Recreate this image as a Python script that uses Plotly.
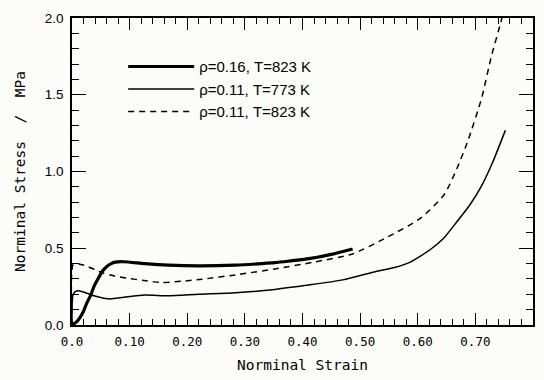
import plotly.graph_objects as go

# Series 1: rho=0.16, T=823 K (thick)
x1 = [0.0, 0.008, 0.014, 0.02, 0.026, 0.032, 0.038, 0.045, 0.052, 0.06, 0.068, 0.075, 0.09, 0.126, 0.167, 0.22, 0.284, 0.33, 0.352, 0.38, 0.411, 0.45, 0.487]
y1 = [0.0, 0.02, 0.05, 0.09, 0.146, 0.19, 0.25, 0.30, 0.347, 0.38, 0.40, 0.41, 0.412, 0.40, 0.39, 0.385, 0.39, 0.40, 0.406, 0.418, 0.432, 0.46, 0.495]

# Series 2: rho=0.11, T=773 K (thin solid)
x2 = [0.0, 0.002, 0.008, 0.02, 0.038, 0.055, 0.067, 0.09, 0.126, 0.167, 0.22, 0.284, 0.352, 0.41, 0.47, 0.529, 0.56, 0.587, 0.623, 0.645, 0.664, 0.69, 0.711, 0.73, 0.752]
y2 = [0.0, 0.20, 0.222, 0.215, 0.19, 0.175, 0.17, 0.18, 0.195, 0.19, 0.20, 0.21, 0.232, 0.26, 0.294, 0.35, 0.375, 0.41, 0.495, 0.565, 0.654, 0.78, 0.908, 1.06, 1.268]

# Series 3: rho=0.11, T=823 K (dashed)
x3 = [0.0, 0.002, 0.012, 0.026, 0.04, 0.055, 0.075, 0.096, 0.125, 0.155, 0.19, 0.226, 0.29, 0.352, 0.42, 0.487, 0.546, 0.605, 0.646, 0.668, 0.687, 0.711, 0.728, 0.743, 0.748]
y3 = [0.0, 0.395, 0.398, 0.383, 0.36, 0.337, 0.318, 0.305, 0.29, 0.277, 0.285, 0.298, 0.33, 0.365, 0.41, 0.463, 0.57, 0.696, 0.85, 1.02, 1.2, 1.48, 1.754, 1.956, 2.03]

x_tick_alias = {"0.00": "0.0"}
names = ["ρ=0.16, T=823 K", "ρ=0.11, T=773 K", "ρ=0.11, T=823 K"]

X_RANGE = [0, 0.8]
Y_RANGE = [0, 2.0]

fig = go.Figure()
fig.add_trace(go.Scatter(x=x1, y=y1, mode="lines", name=names[0],
                         line=dict(color="black", width=3.2, shape="spline", smoothing=0.6)))
fig.add_trace(go.Scatter(x=x2, y=y2, mode="lines", name=names[1],
                         line=dict(color="black", width=1.5, shape="spline", smoothing=0.6)))
fig.add_trace(go.Scatter(x=x3, y=y3, mode="lines", name=names[2],
                         line=dict(color="black", width=1.5, dash="6px,5px", shape="spline", smoothing=0.6)))

axis_frame = dict(showline=True, linecolor="black", linewidth=1.5, mirror="allticks",
                  ticks="inside", tickcolor="black", tickwidth=1,
                  showgrid=False, zeroline=False)

fig.update_layout(
    width=544, height=380, autosize=False,
    margin=dict(l=72, r=9, t=18, b=39),
    paper_bgcolor="#fcfcf8", plot_bgcolor="#fcfcf8",
    showlegend=True,
    legend=dict(x=0.111, y=0.895, xanchor="left", yanchor="top",
                bgcolor="rgba(0,0,0,0)", font=dict(family="Liberation Sans, Arial", size=15, color="black"),
                tracegroupgap=0, itemwidth=66),
    xaxis=dict(range=X_RANGE, tickmode="linear", tick0=0, dtick=0.1, tickformat=".2f",
               labelalias=x_tick_alias, ticklen=12, ticklabelstandoff=4,
               minor=dict(ticks="inside", dtick=0.02, ticklen=6, tickwidth=1, tickcolor="black", showgrid=False),
               tickfont=dict(family="DejaVu Sans Mono", size=12.5, color="black"),
               title=dict(text="Norminal Strain", font=dict(family="DejaVu Sans Mono", size=14.5, color="black"), standoff=12),
               **axis_frame),
    yaxis=dict(range=Y_RANGE, tickmode="linear", tick0=0, dtick=0.5, tickformat=".1f",
               ticklen=14, ticklabelstandoff=4,
               minor=dict(ticks="inside", dtick=0.1, ticklen=7, tickwidth=1, tickcolor="black", showgrid=False),
               tickfont=dict(family="Liberation Sans, Arial", size=13.5, color="black"),
               title=dict(text="Norminal Stress  /  MPa", font=dict(family="DejaVu Sans Mono", size=14.5, color="black"), standoff=16),
               **axis_frame),
)

fig.write_html("out.html",
               config=dict(displayModeBar=False, responsive=False),
               post_script="document.body.style.margin='0';document.body.style.overflow='hidden';")
